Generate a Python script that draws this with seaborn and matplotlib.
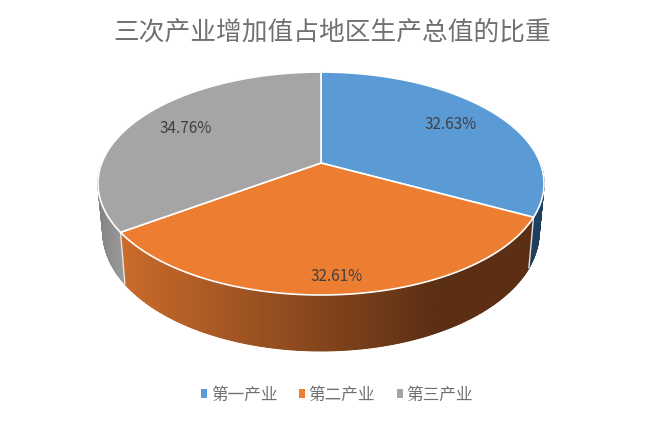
#3D looking pie, seaborn only sets the theme and the wall gradients
import numpy as np
import matplotlib
matplotlib.use('Agg')
import matplotlib.pyplot as plt
import seaborn as sns
from matplotlib.collections import PolyCollection
from matplotlib.patches import Patch, Polygon

#data section
title = '三次产业增加值占地区生产总值的比重'
categories = ['第一产业', '第二产业', '第三产业']
values = [32.63, 32.61, 34.76]

#style section
top_colors = ['#5B9BD5', '#ED7D31', '#A5A5A5']
wall_colors = [['#1F3F5E', '#1F3F5E'], ['#CB6C2C', '#5C2F14'], ['#828282', '#9C9C9C']]
wall_x = [[450, 600], [120, 435], [95, 125]]
label_radius = [0.74, 0.885, 0.74]

#perspective of the disc, in pixels of the 666x425 picture
cx = 321
persp = 0.184
top_a, top_b, top_y = 219.2, 107.7, 163
low_a, low_b, low_y = 214.4, 114.8, 210.2


def project(angle, r, a, b, y0):
    # angle is clockwise from 12 o'clock, r is 0..1 on the disc
    u = r * np.sin(angle)
    v = r * np.cos(angle)
    w = 1 + persp * v
    return cx + a * u / w, y0 - b * v / w


sns.set_theme(style='white')
plt.rcParams['font.family'] = ['Noto Sans CJK SC', 'DejaVu Sans']

fig = plt.figure(figsize=(6.66, 4.25), dpi=100, facecolor='white')
ax = fig.add_axes([0, 0, 1, 1])

edges = 2 * np.pi * np.cumsum([0] + values) / sum(values)

#side walls first, the tops go over them
for i in range(len(values)):
    ang = np.linspace(edges[i], edges[i + 1], 160)
    tx, ty = project(ang, 1, top_a, top_b, top_y)
    lx, ly = project(ang, 1, low_a, low_b, low_y)
    blend = np.array(sns.blend_palette(wall_colors[i], 256))[:, :3]
    pos = np.interp(np.arange(666), wall_x[i], [0, 255]).astype(int)

    # quads give the true outline where the wall turns away at the sides
    # the back half is never seen and would peek out round the rim
    quads = []
    cols = []
    for j in range(len(ang) - 1):
        if np.cos(ang[j]) > -0.02:
            continue
        quads.append([(tx[j], ty[j]), (tx[j + 1], ty[j + 1]), (lx[j + 1], ly[j + 1]), (lx[j], ly[j])])
        cols.append(blend[pos[int(tx[j])]])
    ax.add_collection(PolyCollection(quads, facecolors=cols, edgecolors=cols, linewidths=0.8, zorder=2))

    # smooth horizontal gradient over them, clipped to the wall
    wall = Polygon(np.c_[np.r_[tx, lx[::-1]], np.r_[ty, ly[::-1]]], closed=True, transform=ax.transData)
    img = ax.imshow(blend[pos][np.newaxis, :, :], extent=(0, 666, 425, 0), aspect='auto',
                    interpolation='bilinear', zorder=2.5)
    img.set_clip_path(wall)

    # light seam where the slices meet on the wall
    ax.plot([tx[0], lx[0]], [ty[0], ly[0]], color='#E4E4E4', lw=1.0, zorder=3)

#top of the pie
for i in range(len(values)):
    ang = np.linspace(edges[i], edges[i + 1], 160)
    tx, ty = project(ang, 1, top_a, top_b, top_y)
    xs = np.r_[cx, tx]
    ys = np.r_[top_y, ty]
    ax.fill(xs, ys, facecolor=top_colors[i], edgecolor='white', lw=1.2, joinstyle='round', zorder=4)

    mid = (edges[i] + edges[i + 1]) / 2
    lbl_x, lbl_y = project(mid, label_radius[i], top_a, top_b, top_y)
    ax.text(lbl_x, lbl_y, f'{values[i]:.2f}%', ha='center', va='center', fontsize=11,
            color='#404040', zorder=5)

ax.set_xlim(0, 666)
ax.set_ylim(425, 0)
ax.axis('off')

ax.text(332.5, 33, title, ha='center', va='center', fontsize=18.5, color='#707070')

handles = [Patch(facecolor=c, edgecolor='none') for c in top_colors]
ax.legend(handles, categories, loc='center', bbox_to_anchor=(337, 395), bbox_transform=ax.transData,
          ncol=3, frameon=False, fontsize=12, labelcolor='#707070', handlelength=0.38, handleheight=0.38,
          handletextpad=0.2, columnspacing=1.3, borderpad=0)

fig.savefig('out.png', dpi=100)
